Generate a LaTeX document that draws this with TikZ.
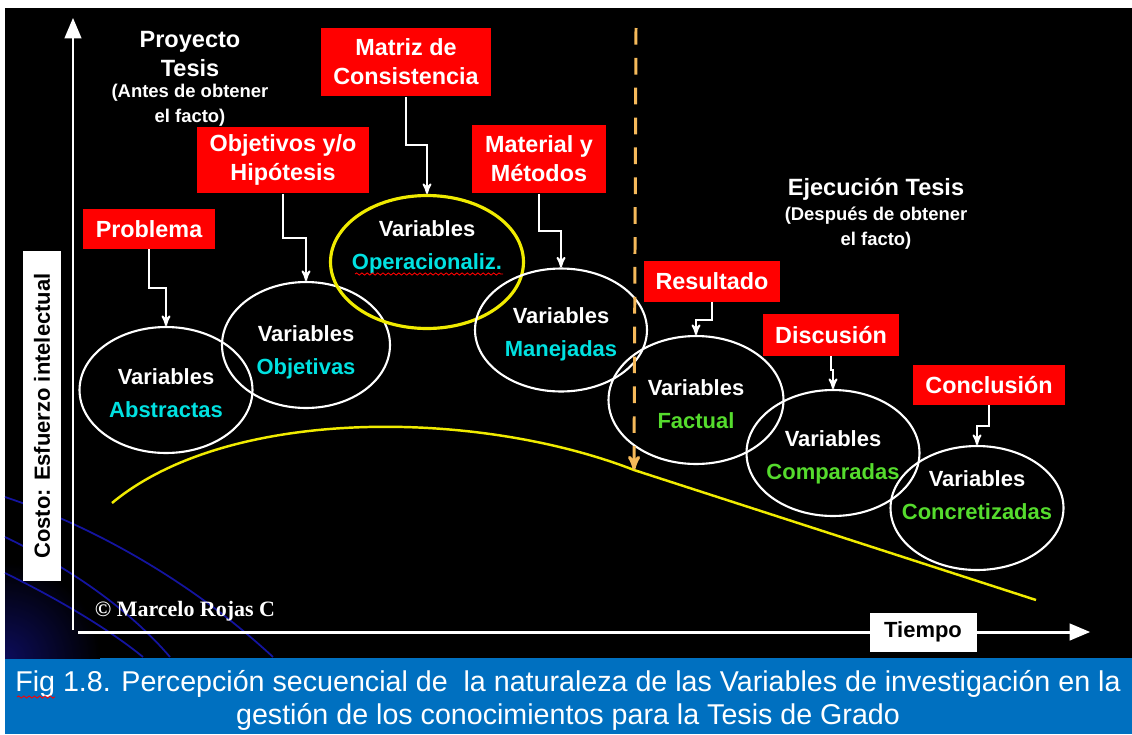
\documentclass[tikz,border=0pt]{standalone}
\usepackage{fontspec}
\setmainfont{Liberation Sans}
\newfontfamily\serifrm{Liberation Serif}
\usetikzlibrary{arrows,shapes.geometric,positioning,decorations.pathmorphing}
\definecolor{rojo}{RGB}{255,0,0}
\definecolor{cian}{RGB}{0,225,225}
\definecolor{verde}{RGB}{85,220,45}
\definecolor{amarillo}{RGB}{240,235,0}
\definecolor{naranja}{RGB}{245,185,90}
\definecolor{banda}{RGB}{0,112,192}
\definecolor{azuloscuro}{RGB}{20,20,160}
\definecolor{brillo}{RGB}{12,12,90}
\tikzstyle{etiqueta}=[fill=rojo,text=white,font=\bfseries\fontsize{13.3}{16.5}\selectfont,align=center,inner sep=0pt]
\tikzstyle{varelipse}=[ellipse,draw=white,line width=1.2pt,text=white,font=\bfseries\fontsize{12.5}{19}\selectfont,align=center,inner xsep=-9pt,inner ysep=0pt,text height=31pt,text depth=0pt,minimum width=3.46cm,minimum height=2.52cm]
\tikzstyle{flecha}=[draw=white,line width=1.1pt,->,>=stealth']
\tikzstyle{eje}=[draw=white,line width=1.7pt,->,>=triangle 45]
\tikzstyle{titulo}=[text=white,font=\bfseries\fontsize{13.4}{16}\selectfont,align=center]
\tikzstyle{nota}=[text=white,font=\bfseries\fontsize{10.5}{14}\selectfont,align=center]
\tikzstyle{caja}=[fill=white,text=black,font=\bfseries\fontsize{12.5}{15}\selectfont,inner sep=0pt]
\tikzstyle{ondulado}=[draw=rojo,line width=0.5pt,decorate,decoration={snake,amplitude=0.6pt,segment length=3pt}]

\begin{document}
\begin{tikzpicture}[x=0.02cm,y=-0.02cm]
  \useasboundingbox (0,0) rectangle (1132,734);
  % fondo
  \fill[white] (0,0) rectangle (1132,734);
  \fill[black] (5,8) rectangle (1132,658);
  \fill[banda] (5,658) rectangle (1132,734);
  \begin{scope}
    \clip (5,8) rectangle (1132,658);
    \shade[inner color=brillo,outer color=black] (5,658) circle (95);
  \end{scope}
  \draw[azuloscuro,line width=1pt] (5,497) .. controls (90,525) and (190,580) .. (273,657);
  \draw[azuloscuro,line width=1pt] (5,537) .. controls (70,568) and (130,610) .. (170,657);
  \draw[azuloscuro,line width=1pt] (5,573) .. controls (60,600) and (110,630) .. (143,657);

  % ejes
  \coordinate (origen) at (73,630);
  \coordinate (ytope) at (73,18);
  \coordinate (xinicio) at (78,632);
  \coordinate (xfin) at (1090,632);
  \draw[eje] (origen) -- (ytope);
  \draw[eje] (xinicio) -- (xfin);
  \node[caja,minimum width=2.14cm,minimum height=0.78cm] (tiempo) at (923,632) {Tiempo};
  \node[caja,rotate=90,minimum width=6.6cm,minimum height=0.78cm] (costo) at (42,416) {Costo: Esfuerzo intelectual};

  % curva de esfuerzo
  \coordinate (inicio) at (112,503);
  \coordinate (cruce) at (634,470);
  \coordinate (fin) at (1036,600);
  \draw[amarillo,line width=1.4pt] (inicio) .. controls (230,405) and (480,410) .. (cruce) -- (fin);

  % variables
  \node[varelipse,text height=31.7pt] (abstractas) at (166,390) {Variables\\\textcolor{cian}{Abstractas}};
  \node[varelipse,text height=33.9pt,minimum width=3.36cm] (objetivas) at (306,345) {Variables\\\textcolor{cian}{Objetivas}};
  \node[varelipse,text height=9pt,draw=amarillo,line width=1.8pt,minimum width=3.86cm,minimum height=2.66cm] (operacionaliz) at (427,262) {Variables\\\textcolor{cian}{Operacionaliz.}};
  \node[varelipse,text height=30.5pt,minimum width=3.44cm,minimum height=2.46cm] (manejadas) at (561,330) {Variables\\\textcolor{cian}{Manejadas}};
  \node[varelipse,text height=32.8pt,minimum width=3.5cm,minimum height=2.56cm] (factual) at (696,400) {Variables\\\textcolor{verde}{Factual}};
  \node[varelipse,text height=30.5pt] (comparadas) at (833,453) {Variables\\\textcolor{verde}{Comparadas}};
  \node[varelipse,text height=13.5pt,minimum height=2.48cm] (concretizadas) at (977,508) {Variables\\\textcolor{verde}{Concretizadas}};
  \draw[ondulado] (355,274) -- (503,274);

  % etapas
  \node[etiqueta,minimum width=2.64cm,minimum height=0.8cm] (problema) at (149,229) {Problema};
  \node[etiqueta,minimum width=3.44cm,minimum height=1.34cm] (objetivos) at (283,160) {Objetivos y/o\\Hipótesis};
  \node[etiqueta,minimum width=3.42cm,minimum height=1.38cm] (matriz) at (406,62) {Matriz de\\Consistencia};
  \node[etiqueta,minimum width=2.68cm,minimum height=1.38cm] (material) at (539,159) {Material y\\Métodos};
  \node[etiqueta,minimum width=2.74cm,minimum height=0.82cm] (resultado) at (712,281) {Resultado};
  \node[etiqueta,minimum width=2.74cm,minimum height=0.84cm] (discusion) at (831,335) {Discusión};
  \node[etiqueta,minimum width=3.04cm,minimum height=0.8cm] (conclusion) at (989,385) {Conclusión};

  \draw[flecha] (problema.south) -- ++(0,39) -| (abstractas.north);
  \draw[flecha] (objetivos.south) -- ++(0,44) -| (objetivas.north);
  \draw[flecha] (matriz.south) -- ++(0,48) -| (operacionaliz.north);
  \draw[flecha] (material.south) -- ++(0,37) -| (manejadas.north);
  \draw[flecha] (resultado.south) -- ++(0,18) -| (factual.north);
  \draw[flecha] (discusion.south) -- ++(0,14) -| (comparadas.north);
  \draw[flecha] (conclusion.south) -- ++(0,21) -| (concretizadas.north);

  % corte entre proyecto y ejecucion
  \coordinate (cortetope) at (636,28);
  \draw[naranja,line width=1.7pt,dash pattern=on 9.5pt off 7.5pt,->,>=stealth'] (cortetope) -- (cruce);

  % textos
  \node[titulo] (proyecto) at (190,54) {Proyecto\\Tesis};
  \node[nota] (antes) at (190,105) {(Antes de obtener\\el facto)};
  \node[titulo] (ejecucion) at (876,189) {Ejecución Tesis};
  \node[nota] (despues) at (876,228) {(Después de obtener\\el facto)};
  \node[text=white,font=\serifrm\bfseries\fontsize{12.5}{15}\selectfont] (autor) at (185,611) {\textcopyright\ Marcelo Rojas C};

  \node[text=white,font=\fontsize{16.3}{18.7}\selectfont,align=center] (leyenda) at (568,700) {Fig 1.8. Percepción secuencial de~ la naturaleza de las Variables de investigación en la\\gestión de los conocimientos para la Tesis de Grado};
  \draw[ondulado] (17,697) -- (55,697);
\end{tikzpicture}
\end{document}
